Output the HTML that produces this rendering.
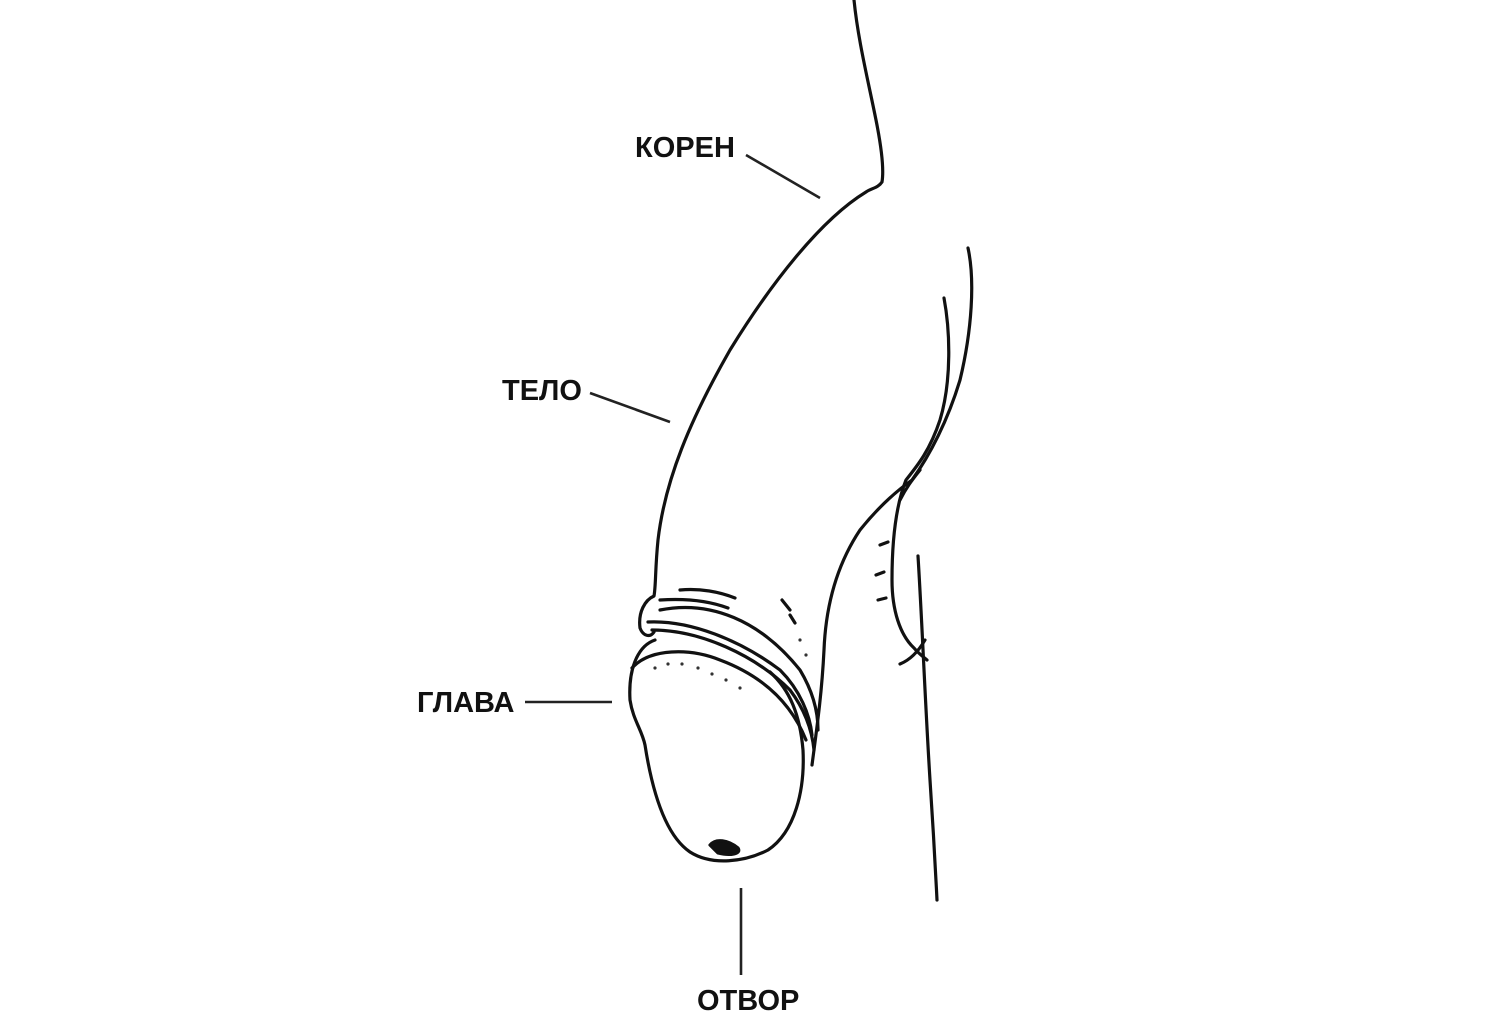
<!DOCTYPE html>
<html><head><meta charset="utf-8"><style>
html,body{margin:0;padding:0;background:#fff;}
svg{display:block;}
text{font-family:"Liberation Sans",sans-serif;font-weight:bold;font-size:29px;fill:#111;}
</style></head><body>
<svg width="1500" height="1024" viewBox="0 0 1500 1024" xmlns="http://www.w3.org/2000/svg">
<g fill="none" stroke="#111" stroke-width="3.2" stroke-linecap="round" stroke-linejoin="round">
<!-- outer left contour -->
<path d="M854,0 C858,40 868,80 876,120 C882,150 884,170 882,182 C878,188 872,188 866,192 C820,220 770,285 730,350 C690,420 665,480 658,540 C655,570 656,585 654,596 C645,600 638,612 640,628 C643,636 650,638 654,632"/>
<!-- glans -->
<path d="M655,640 C640,645 628,665 630,700 C633,720 642,730 645,745 C652,790 665,835 690,852 C712,866 745,862 768,850 C795,832 805,790 803,750 C800,715 790,690 770,672"/>
<path d="M632,668 C650,648 690,648 720,660 C760,675 790,700 806,740"/>
<path d="M710,845 C716,838 728,840 738,848 C742,854 730,856 718,853 Z" fill="#111"/>
<!-- foreskin folds -->
<path d="M648,622 C690,620 740,640 780,670 C800,690 810,715 812,735"/>
<path d="M652,630 C700,630 755,655 790,690 C805,710 812,730 814,750"/>
<path d="M660,610 C710,600 760,620 800,670 C812,690 818,710 818,730"/>
<path d="M680,590 C700,588 720,592 735,598"/>
<path d="M660,600 C690,598 712,602 728,608"/>
<!-- right side of shaft -->
<path d="M812,765 C818,720 822,690 824,650 C826,600 840,560 860,530 C880,505 898,490 912,480 C930,455 948,420 960,380 C972,330 975,280 968,248"/>
<path d="M944,298 C950,330 952,380 940,420 C930,450 918,465 906,480 C896,505 892,540 892,580 C892,610 900,635 914,648 C920,655 925,658 927,660"/>
<path d="M920,470 C912,480 906,488 900,500"/>
<!-- thigh -->
<path d="M918,556 C922,620 925,700 930,780 C934,840 936,880 937,900"/>
<path d="M925,640 C918,652 910,660 900,664"/>
<!-- hair marks -->
<path d="M880,545 l8,-3 M876,575 l8,-3 M878,600 l8,-2 M782,600 l8,10 M790,615 l5,8"/>
</g>
<g fill="#333">
<circle cx="655" cy="668" r="1.6"/><circle cx="668" cy="664" r="1.6"/><circle cx="682" cy="664" r="1.6"/>
<circle cx="698" cy="668" r="1.6"/><circle cx="712" cy="674" r="1.6"/><circle cx="726" cy="680" r="1.6"/>
<circle cx="740" cy="688" r="1.6"/><circle cx="800" cy="640" r="1.6"/><circle cx="806" cy="655" r="1.6"/>
</g>
<!-- leader lines -->
<g stroke="#222" stroke-width="2.6">
<line x1="746" y1="155" x2="820" y2="198"/>
<line x1="590" y1="393" x2="670" y2="422"/>
<line x1="525" y1="702" x2="612" y2="702"/>
<line x1="741" y1="888" x2="741" y2="975"/>
</g>
<text x="635" y="157">КОРЕН</text>
<text x="502" y="400">ТЕЛО</text>
<text x="417" y="712">ГЛАВА</text>
<text x="697" y="1010">ОТВОР</text>
</svg>
</body></html>
